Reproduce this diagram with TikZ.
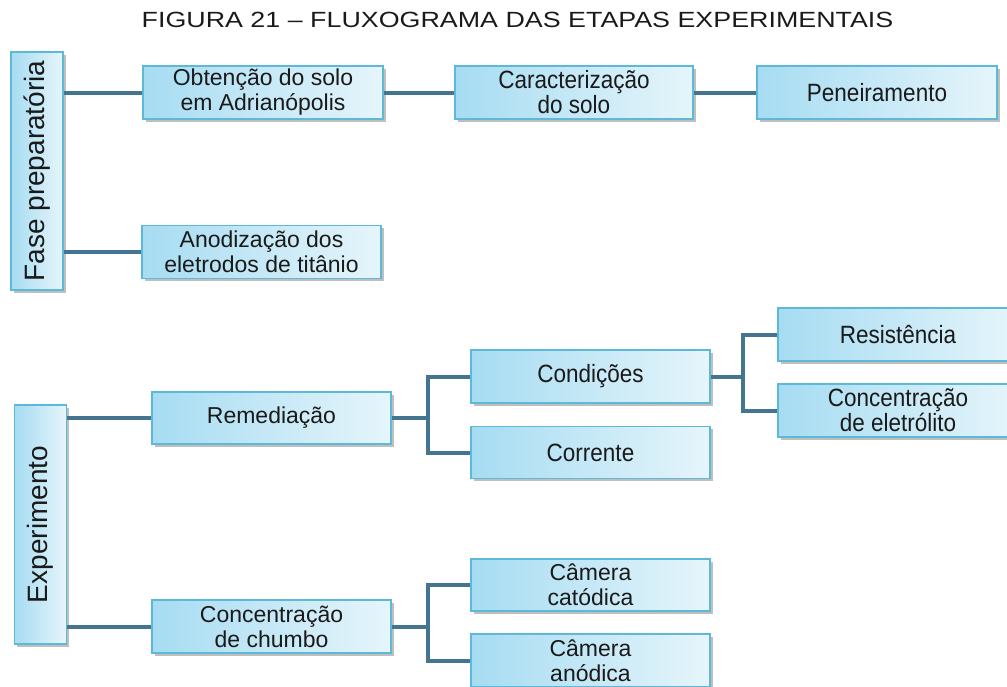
\documentclass[tikz,border=0pt]{standalone}
\usepackage{fontspec}
\setmainfont{Liberation Sans}
\newfontfamily\narrowfont[FakeStretch=0.9]{Liberation Sans}
\newfontfamily\widefont[FakeStretch=1.22]{Liberation Sans}
\usetikzlibrary{shadows}
\definecolor{boxL}{HTML}{A6DCF2}
\definecolor{boxR}{HTML}{E6F5FB}
\definecolor{boxB}{HTML}{5CB9D8}
\definecolor{conn}{HTML}{44748F}
\definecolor{txt}{HTML}{1A1A1A}
\tikzset{
  box/.style={draw=boxB, line width=1.1pt, left color=boxL, right color=boxR,
    minimum width=239pt, minimum height=53pt, inner sep=0pt, align=center,
    text=txt, font=\fontsize{23}{25}\selectfont,
    drop shadow={shadow xshift=2.5pt, shadow yshift=-2.5pt, fill=black, opacity=0.25}},
  nbox/.style={box, font=\fontsize{25}{25}\narrowfont},
  vbox/.style={box, rotate=90, minimum width=239pt, minimum height=52pt,
    left color=boxL, right color=boxR, font=\fontsize{28}{30}\selectfont},
  link/.style={draw=conn, line width=4pt},
}
\begin{document}
\begin{tikzpicture}[x=1pt,y=-1pt]
\useasboundingbox (0,0) rectangle (1007,686);
\clip (0,0) rectangle (1007,686);
\node[font=\fontsize{22}{24}\widefont, text=txt] (title) at (517.5,20) {FIGURA 21 – FLUXOGRAMA DAS ETAPAS EXPERIMENTAIS};

\node[vbox, minimum width=238pt] (fase) at (37,171) {Fase preparatória};
\node[box, minimum width=240pt] (obt) at (263,92.5) {Obtenção do solo\\em Adrianópolis};
\node[nbox, minimum width=238pt] (car) at (574,92.5) {Caracterização\\do solo};
\node[nbox, minimum width=240pt] (pen) at (877,92.5) {Peneiramento};
\node[box] (ano) at (261.5,252) {Anodização dos\\eletrodos de titânio};

\node[vbox] (exp) at (40.5,524.5) {Experimento};
\node[box, minimum height=52pt] (rem) at (271.5,418) {Remediação};
\node[box] (cch) at (271.5,626.5) {Concentração\\de chumbo};
\node[nbox] (cond) at (590.5,376.5) {Condições};
\node[nbox, minimum height=52pt] (corr) at (590.5,452.5) {Corrente};
\node[nbox, minimum width=240pt] (res) at (898,334.5) {Resistência};
\node[nbox, minimum width=240pt] (conc) at (898,410.5) {Concentração\\de eletrólito};
\node[box, minimum height=52pt] (cat) at (590.5,585) {Câmera\\catódica};
\node[box] (anod) at (590.5,660.5) {Câmera\\anódica};

\coordinate (j1) at (428,418);
\coordinate (j2) at (743,376.5);
\coordinate (j3) at (428,626.5);

\draw[link] (fase.south |- obt.west) -- (obt.west);
\draw[link] (fase.south |- ano.west) -- (ano.west);
\draw[link] (obt.east) -- (car.west);
\draw[link] (car.east) -- (pen.west);

\draw[link] (exp.south |- rem.west) -- (rem.west);
\draw[link] (exp.south |- cch.west) -- (cch.west);
\draw[link] (rem.east) -- (j1);
\draw[link] (cond.west) -| (j1) |- (corr.west);
\draw[link] (cond.east) -- (j2);
\draw[link] (res.west) -| (j2) |- (conc.west);
\draw[link] (cch.east) -- (j3);
\draw[link] (cat.west) -| (j3) |- (anod.west);
\end{tikzpicture}
\end{document}
